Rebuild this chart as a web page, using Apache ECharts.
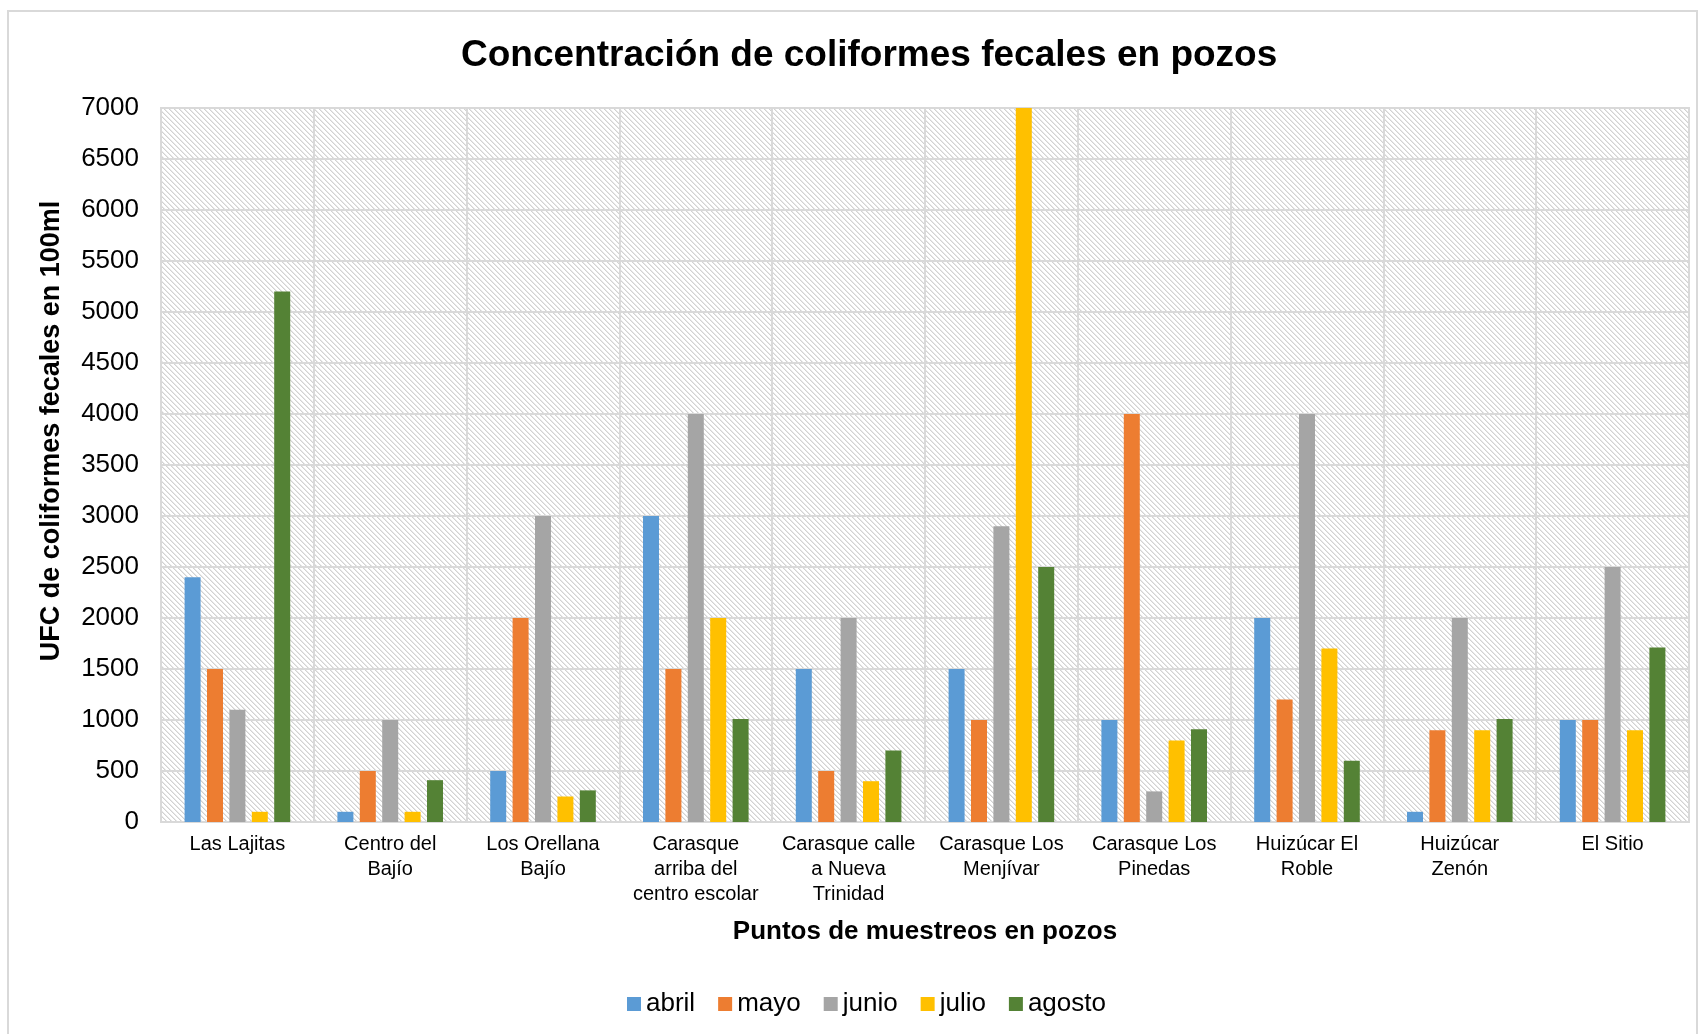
<!DOCTYPE html>
<html>
<head>
<meta charset="utf-8">
<script src="https://cdn.jsdelivr.net/npm/echarts@6/dist/echarts.min.js"></script>
<style>
html,body{margin:0;padding:0;background:#fff;}
#chart{width:1703px;height:1034px;}
</style>
</head>
<body>
<div id="chart"></div>
<script>
const categories = [
  "Las Lajitas",
  "Centro del\nBajío",
  "Los Orellana\nBajío",
  "Carasque\narriba del\ncentro escolar",
  "Carasque calle\na Nueva\nTrinidad",
  "Carasque Los\nMenjívar",
  "Carasque Los\nPinedas",
  "Huizúcar El\nRoble",
  "Huizúcar\nZenón",
  "El Sitio"
];
const seriesNames = ["abril", "mayo", "junio", "julio", "agosto"];
const abril  = [2400, 100, 500, 3000, 1500, 1500, 1000, 2000, 100, 1000];
const mayo   = [1500, 500, 2000, 1500, 500, 1000, 4000, 1200, 900, 1000];
const junio  = [1100, 1000, 3000, 4000, 2000, 2900, 300, 4000, 2000, 2500];
const julio  = [100, 100, 250, 2000, 400, 7000, 800, 1700, 900, 900];
const agosto = [5200, 410, 310, 1010, 700, 2500, 910, 600, 1010, 1710];
const yTicks = { min: 0, max: 7000, interval: 500 };
const colors = ["#5B9BD5", "#ED7D31", "#A5A5A5", "#FFC000", "#548235"];

// hatch pattern for plot background
const pc = document.createElement('canvas');
pc.width = 5; pc.height = 5;
const pctx = pc.getContext('2d');
pctx.fillStyle = '#ffffff';
pctx.fillRect(0, 0, 5, 5);
for (let i = 0; i < 5; i++) {
  pctx.fillStyle = '#d2d2d2';
  pctx.fillRect(i, i, 1, 1);
  pctx.fillStyle = '#e8e8e8';
  pctx.fillRect((i + 1) % 5, i, 1, 1);
}

const dataArrays = [abril, mayo, junio, julio, agosto];
const font = '"Liberation Sans", Arial, sans-serif';

const chart = echarts.init(document.getElementById('chart'), null, { renderer: 'canvas' });
chart.setOption({
  animation: false,
  backgroundColor: '#ffffff',
  color: colors,
  title: {
    text: 'Concentración de coliformes fecales en pozos',
    left: 456,
    top: 32,
    textStyle: { fontFamily: font, fontSize: 37, fontWeight: 'bold', color: '#000' }
  },
  graphic: [{
    type: 'rect',
    shape: { x: 8, y: 11, width: 1689, height: 1040 },
    style: { fill: 'none', stroke: '#d9d9d9', lineWidth: 2 },
    silent: true
  }],
  legend: {
    data: seriesNames,
    left: 622,
    top: 986,
    itemWidth: 14,
    itemHeight: 14,
    itemGap: 23,
    icon: 'rect',
    textStyle: { fontFamily: font, fontSize: 26, color: '#000' }
  },
  grid: {
    left: 161, right: 14, top: 108, bottom: 212,
    show: true,
    backgroundColor: { image: pc, repeat: 'repeat' },
    borderColor: '#d9d9d9',
    borderWidth: 2
  },
  xAxis: {
    type: 'category',
    data: categories,
    name: 'Puntos de muestreos en pozos',
    nameLocation: 'middle',
    nameGap: 97,
    nameTextStyle: { fontFamily: font, fontSize: 26, fontWeight: 'bold', color: '#000' },
    axisLine: { show: true, lineStyle: { color: '#d9d9d9', width: 2 } },
    axisTick: { show: false },
    axisLabel: {
      interval: 0,
      margin: 10,
      fontFamily: font, fontSize: 20, color: '#000', lineHeight: 25
    },
    splitLine: { show: true, lineStyle: { color: '#d9d9d9', width: 2 } }
  },
  yAxis: {
    type: 'value',
    min: yTicks.min, max: yTicks.max, interval: yTicks.interval,
    name: 'UFC de coliformes fecales en 100ml',
    nameLocation: 'middle',
    nameGap: 96,
    nameTextStyle: { fontFamily: font, fontSize: 27, fontWeight: 'bold', color: '#000', padding: [0, 0, 0, 68] },
    axisLine: { show: false },
    axisTick: { show: false },
    axisLabel: { fontFamily: font, fontSize: 26, color: '#000', margin: 22, formatter: v => String(v) },
    splitLine: { show: true, lineStyle: { color: '#d9d9d9', width: 2 } }
  },
  series: seriesNames.map((n, i) => ({
    name: n,
    type: 'bar',
    data: dataArrays[i],
    barWidth: 16,
    barGap: '40%',
    itemStyle: { color: colors[i] }
  }))
});
</script>
</body>
</html>
